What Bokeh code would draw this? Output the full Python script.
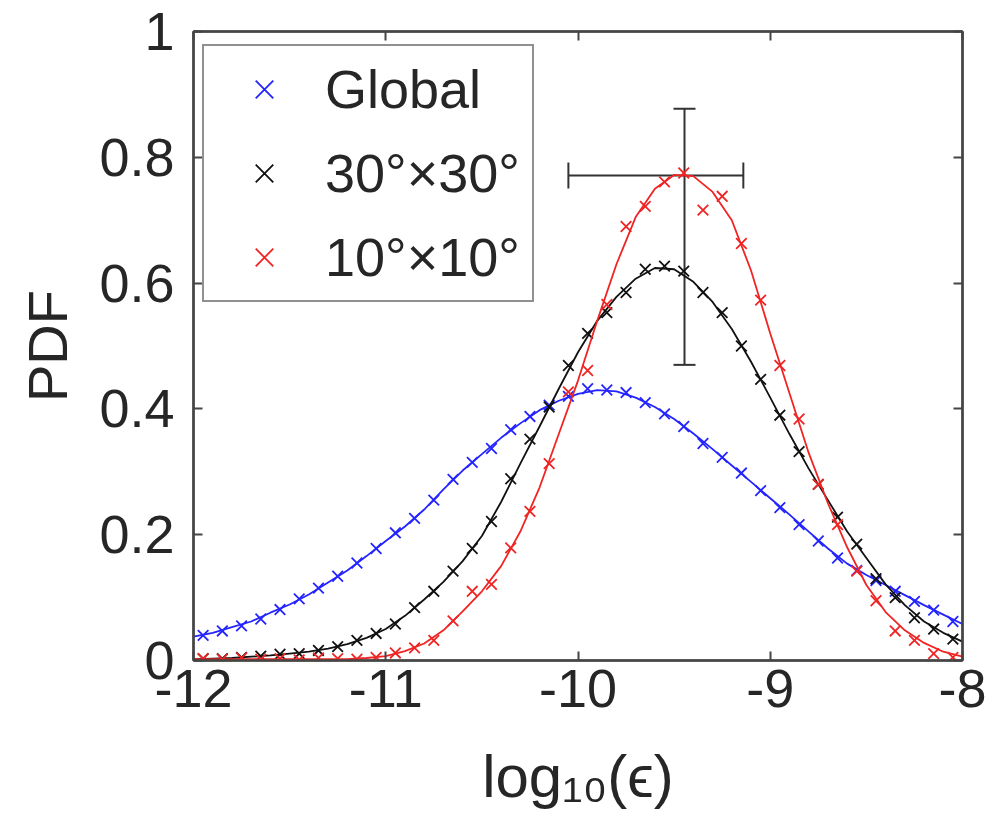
from bokeh.plotting import figure
from bokeh.models import (Range1d, LinearAxis, FixedTicker, CustomJSTickFormatter,
                          Legend, LegendItem, Whisker, ColumnDataSource, TeeHead)
from bokeh.embed import file_html
from bokeh.resources import INLINE

# ---------------- data ----------------
x_fit = [-12.0, -11.9, -11.8, -11.7, -11.6, -11.5, -11.4, -11.3, -11.2, -11.1,
         -11.0, -10.9, -10.8, -10.7, -10.6, -10.5, -10.4, -10.3, -10.2, -10.1,
         -10.0, -9.9, -9.8, -9.7, -9.6, -9.5, -9.4, -9.3, -9.2, -9.1,
         -9.0, -8.9, -8.8, -8.7, -8.6, -8.5, -8.4, -8.3, -8.2, -8.1, -8.0]

global_fit = [0.038, 0.044, 0.053, 0.062, 0.076, 0.089, 0.105, 0.124, 0.143, 0.166,
              0.190, 0.213, 0.240, 0.272, 0.302, 0.328, 0.354, 0.377, 0.398, 0.413,
              0.424, 0.430, 0.428, 0.418, 0.403, 0.384, 0.361, 0.336, 0.310, 0.284,
              0.258, 0.232, 0.205, 0.178, 0.154, 0.136, 0.120, 0.104, 0.088, 0.073, 0.058]

g30_fit = [0.002, 0.003, 0.004, 0.006, 0.008, 0.011, 0.014, 0.019, 0.026, 0.036,
           0.050, 0.071, 0.097, 0.125, 0.158, 0.198, 0.252, 0.313, 0.372, 0.432,
           0.490, 0.540, 0.578, 0.607, 0.624, 0.622, 0.602, 0.570, 0.527, 0.475,
           0.418, 0.360, 0.305, 0.255, 0.205, 0.163, 0.121, 0.088, 0.062, 0.044, 0.030]

g10_fit = [0.002, 0.002, 0.002, 0.002, 0.002, 0.002, 0.002, 0.002, 0.002, 0.004,
           0.007, 0.015, 0.027, 0.048, 0.078, 0.110, 0.150, 0.205, 0.275, 0.360,
           0.445, 0.540, 0.630, 0.705, 0.750, 0.772, 0.770, 0.745, 0.700, 0.620,
           0.520, 0.425, 0.330, 0.250, 0.180, 0.120, 0.077, 0.048, 0.028, 0.014, 0.006]

x_pts = [-11.95, -11.85, -11.75, -11.65, -11.55, -11.45, -11.35, -11.25, -11.15, -11.05,
         -10.95, -10.85, -10.75, -10.65, -10.55, -10.45, -10.35, -10.25, -10.15, -10.05,
         -9.95, -9.85, -9.75, -9.65, -9.55, -9.45, -9.35, -9.25, -9.15, -9.05,
         -8.95, -8.85, -8.75, -8.65, -8.55, -8.45, -8.35, -8.25, -8.15, -8.05]

global_pts = [0.040, 0.047, 0.055, 0.066, 0.081, 0.098, 0.115, 0.134, 0.155, 0.178,
              0.203, 0.226, 0.255, 0.288, 0.315, 0.337, 0.367, 0.388, 0.406, 0.420,
              0.432, 0.430, 0.426, 0.410, 0.392, 0.372, 0.345, 0.323, 0.298, 0.270,
              0.243, 0.216, 0.190, 0.163, 0.143, 0.127, 0.110, 0.094, 0.080, 0.062]

g30_pts = [0.003, 0.003, 0.005, 0.007, 0.010, 0.011, 0.016, 0.022, 0.032, 0.043,
           0.058, 0.084, 0.110, 0.142, 0.178, 0.221, 0.289, 0.352, 0.403, 0.469,
           0.520, 0.553, 0.585, 0.622, 0.627, 0.619, 0.585, 0.553, 0.500, 0.447,
           0.390, 0.332, 0.280, 0.228, 0.185, 0.130, 0.100, 0.068, 0.050, 0.034]

g10_pts = [0.003, 0.002, 0.004, 0.002, 0.003, 0.001, 0.004, 0.003, 0.002, 0.005,
           0.012, 0.020, 0.032, 0.063, 0.110, 0.121, 0.179, 0.237, 0.313, 0.427,
           0.461, 0.566, 0.690, 0.722, 0.761, 0.775, 0.716, 0.738, 0.663, 0.573,
           0.469, 0.384, 0.280, 0.216, 0.142, 0.095, 0.047, 0.032, 0.011, 0.005]

series_labels = ["Global", "30°×30°", "10°×10°"]
x_label = "log₁₀(ϵ)"
y_label = "PDF"

err_x = -9.446
err_y = 0.771
err_x_lo, err_x_hi = -10.05, -9.14
err_y_lo, err_y_hi = 0.470, 0.877

x_ticks = [-12, -11, -10, -9, -8]
y_ticks = [0, 0.2, 0.4, 0.6, 0.8, 1]

# ---------------- styles ----------------
FONT = "Liberation Sans"
TXT = "#262626"
BLUE = "#2424ff"
BLACK = "#111111"
RED = "#f02424"
AX = "#454545"

p = figure(width=991, height=836, output_backend="svg", toolbar_location=None,
           x_range=Range1d(-12, -8), y_range=Range1d(0, 1),
           min_border_left=193, min_border_right=29, min_border_top=31,
           min_border_bottom=176)
p.background_fill_color = "white"
p.border_fill_color = "white"
p.outline_line_color = AX
p.outline_line_width = 2
p.xgrid.visible = False
p.ygrid.visible = False

# lines + markers
r_pts = []
for xs, ys, xf, yf, col in [(x_pts, global_pts, x_fit, global_fit, BLUE),
                            (x_pts, g30_pts, x_fit, g30_fit, BLACK),
                            (x_pts, g10_pts, x_fit, g10_fit, RED)]:
    p.line(xf, yf, line_color=col, line_width=1.8)
    r = p.scatter(xs, ys, marker="x", size=15, line_color=col, line_width=1.8)
    r_pts.append(r)

# error bars
src_v = ColumnDataSource(dict(x=[err_x], lo=[err_y_lo], hi=[err_y_hi]))
src_h = ColumnDataSource(dict(y=[err_y], lo=[err_x_lo], hi=[err_x_hi]))
EB = "#333333"
p.add_layout(Whisker(base="x", lower="lo", upper="hi", source=src_v, dimension="height",
                     line_color=EB, line_width=2,
                     upper_head=TeeHead(size=22, line_color=EB, line_width=2),
                     lower_head=TeeHead(size=22, line_color=EB, line_width=2)))
p.add_layout(Whisker(base="y", lower="lo", upper="hi", source=src_h, dimension="width",
                     line_color=EB, line_width=2,
                     upper_head=TeeHead(size=26, line_color=EB, line_width=2),
                     lower_head=TeeHead(size=26, line_color=EB, line_width=2)))

# axes
def style_axis(ax, show_labels=True):
    ax.axis_line_color = AX
    ax.axis_line_width = 2.5
    ax.major_tick_in = 9
    ax.major_tick_out = 0
    ax.major_tick_line_color = AX
    ax.major_tick_line_width = 2
    ax.minor_tick_line_color = None
    ax.major_label_text_font = FONT
    ax.major_label_text_color = TXT
    ax.major_label_text_font_size = "54px"
    if not show_labels:
        ax.formatter = CustomJSTickFormatter(code="return '';")
        ax.major_label_standoff = 0

p.xaxis.ticker = FixedTicker(ticks=x_ticks)
p.yaxis.ticker = FixedTicker(ticks=y_ticks)
p.yaxis.formatter = CustomJSTickFormatter(code="return String(Math.round(tick*10)/10);")
p.xaxis.formatter = CustomJSTickFormatter(code="return String(Math.round(tick));")
style_axis(p.xaxis[0])
style_axis(p.yaxis[0])
p.xaxis.major_label_standoff = 9
p.yaxis.major_label_standoff = 19

p.yaxis.axis_label = y_label
p.yaxis.axis_label_text_font = FONT
p.yaxis.axis_label_text_font_size = "56px"
p.yaxis.axis_label_text_font_style = "normal"
p.yaxis.axis_label_text_color = TXT
p.yaxis.axis_label_standoff = 17

p.xaxis.axis_label = x_label
p.xaxis.axis_label_text_font = FONT
p.xaxis.axis_label_text_font_size = "60px"
p.xaxis.axis_label_text_font_style = "normal"
p.xaxis.axis_label_text_color = TXT
p.xaxis.axis_label_standoff = 33

ax_r = LinearAxis(ticker=FixedTicker(ticks=y_ticks))
style_axis(ax_r, False)
p.add_layout(ax_r, "right")
ax_t = LinearAxis(ticker=FixedTicker(ticks=x_ticks))
style_axis(ax_t, False)
p.add_layout(ax_t, "above")

# legend
legend = Legend(items=[LegendItem(label=series_labels[i], renderers=[r_pts[i]]) for i in range(3)],
                location=(9, 358))
legend.label_text_font = FONT
legend.label_text_font_size = "54px"
legend.label_text_color = TXT
legend.label_height = 62
legend.glyph_height = 62
legend.glyph_width = 96
legend.label_standoff = 13
legend.padding = 12
legend.spacing = 22
legend.margin = 0
legend.border_line_color = "#222222"
legend.border_line_width = 2
legend.background_fill_color = "white"
legend.background_fill_alpha = 1
p.add_layout(legend, "center")

open("out.html", "w").write(file_html(p, INLINE))
